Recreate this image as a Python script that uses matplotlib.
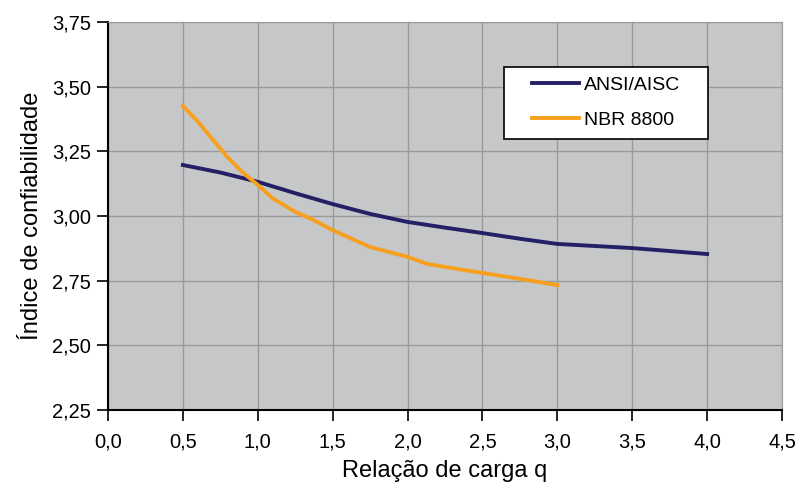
import numpy as np
import matplotlib.pyplot as plt
from matplotlib.patches import Rectangle
from matplotlib.ticker import FuncFormatter

plt.rcParams['font.family'] = ['Liberation Sans', 'DejaVu Sans']

q_ansi = [0.5, 0.75, 1.0, 1.25, 1.5, 1.75, 2.0, 2.25, 2.5, 2.75, 3.0, 3.5, 4.0]
beta_ansi = [3.197, 3.168, 3.132, 3.088, 3.046, 3.008, 2.977, 2.955, 2.934, 2.912, 2.892, 2.876, 2.853]

q_nbr = [0.5, 0.6, 0.7, 0.8, 0.9, 1.0, 1.1, 1.25, 1.37, 1.5, 1.75, 2.0, 2.13, 2.25, 2.5, 2.75, 3.0]
beta_nbr = [3.425, 3.365, 3.295, 3.226, 3.168, 3.12, 3.068, 3.016, 2.985, 2.945, 2.88, 2.842, 2.815, 2.803, 2.78, 2.757, 2.733]

fig = plt.figure(figsize=(8, 4.87), dpi=100)
ax = fig.add_axes([0.135, 0.158, 0.8425, 0.797])
ax.set_facecolor('#c6c7c9')

ax.plot(q_ansi, beta_ansi, color='#232065', lw=2.8, label='ANSI/AISC', zorder=3)
ax.plot(q_nbr, beta_nbr, color='#f7a01f', lw=2.8, label='NBR 8800', zorder=3)

ax.set_xlim(0, 4.5)
ax.set_ylim(2.25, 3.75)
ax.set_xticks(np.arange(0, 4.51, 0.5))
ax.set_yticks(np.arange(2.25, 3.76, 0.25))
ax.xaxis.set_major_formatter(FuncFormatter(lambda v, p: f'{v:.1f}'.replace('.', ',')))
ax.yaxis.set_major_formatter(FuncFormatter(lambda v, p: f'{v:.2f}'.replace('.', ',')))
ax.grid(True, color='#9a9a9a', lw=1.0)
ax.set_axisbelow(True)

for s in ['top', 'right']:
    ax.spines[s].set_color('#9a9a9a')
for s in ['left', 'bottom']:
    ax.spines[s].set_color('black')
    ax.spines[s].set_linewidth(1.5)
ax.tick_params(direction='out', length=8, width=1.2, labelsize=14.5, colors='black', pad=4)
ax.tick_params(axis='x', pad=8)

ax.set_xlabel('Relação de carga q', fontsize=17, labelpad=6)
ax.set_ylabel('Índice de confiabilidade', fontsize=17, labelpad=7)

# legend box
ax.add_patch(Rectangle((0.5875, 0.698), 0.3027, 0.186, transform=ax.transAxes,
                       facecolor='white', edgecolor='black', lw=1.2, zorder=4))
leg = ax.legend(loc='upper left', bbox_to_anchor=(0.629, 0.86), fontsize=14,
                frameon=False, handlelength=2.4, handletextpad=0.3,
                borderpad=0, labelspacing=0.9, borderaxespad=0)
leg.set_zorder(5)

fig.savefig('out.png', dpi=100)
